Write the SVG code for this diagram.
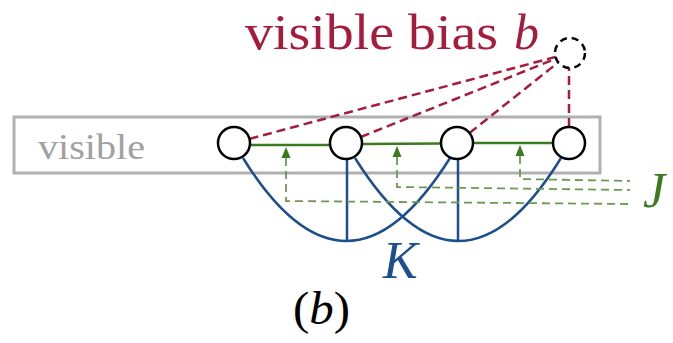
<svg xmlns="http://www.w3.org/2000/svg" width="673" height="343" viewBox="0 0 673 343">
<style>
  .node{fill:#fff;stroke:#000;stroke-width:2.5}
  .bias{fill:#fff;stroke:#000;stroke-width:2.5;stroke-dasharray:7 5}
  .red{stroke:#a51c3c;stroke-width:2.5;stroke-dasharray:9 5;fill:none}
  .blue{stroke:#1d4f8f;stroke-width:2.5;fill:none}
  .grn{stroke:#3b7a1f;stroke-width:2.5;fill:none}
  .gdash{stroke:#6b9b52;stroke-width:1.8;stroke-dasharray:8 5;fill:none}
  .arr{fill:#3b7a1f}
</style>
<rect x="14" y="117" width="586" height="56" fill="none" stroke="#b0b0b0" stroke-width="3"/>
<text font-family="Liberation Serif" x="38" y="159" font-size="36" fill="#a0a0a0" textLength="107" lengthAdjust="spacingAndGlyphs">visible</text>
<g id="labels">
  <text font-family="Liberation Serif" x="245" y="49" font-size="50" fill="#a51c3c" textLength="253" lengthAdjust="spacingAndGlyphs">visible bias</text>
  <text font-family="Liberation Serif" font-style="italic" x="514" y="49" font-size="50" fill="#a51c3c">b</text>
  <text font-family="Liberation Serif" font-style="italic" x="643" y="207" font-size="50" fill="#3b7a1f">J</text>
  <text font-family="Liberation Serif" font-style="italic" x="383" y="278" font-size="52" fill="#1d4f8f">K</text>
  <text font-family="Liberation Serif" x="293" y="324" font-size="46" fill="#000" textLength="57" lengthAdjust="spacingAndGlyphs">(<tspan font-style="italic">b</tspan>)</text>
</g>
<g id="connectors">
  <line class="red" x1="249.5" y1="138.9" x2="555.5" y2="56.9"/>
  <line class="red" x1="360.8" y1="137" x2="556" y2="58.6"/>
  <line class="red" x1="469.5" y1="133" x2="558.3" y2="62.3"/>
  <line class="red" x1="569" y1="127" x2="569" y2="68"/>
  <path class="blue" d="M243,158 Q346,324 450,158"/>
  <path class="blue" d="M355,158 Q459,324 561,158"/>
  <line class="blue" x1="347" y1="159" x2="347" y2="241"/>
  <line class="blue" x1="458" y1="159" x2="458" y2="241"/>
  <line class="grn" x1="250" y1="145" x2="330" y2="145"/>
  <line class="grn" x1="362" y1="144" x2="441" y2="143.5"/>
  <line class="grn" x1="473" y1="143" x2="553" y2="143"/>
  <polygon class="arr" points="286,147 281.5,158 290.5,158"/>
  <polygon class="arr" points="397,146 392.5,157 401.5,157"/>
  <polygon class="arr" points="520,145 515.5,156 524.5,156"/>
  <path class="gdash" d="M286,158 V201 L630,204"/>
  <path class="gdash" d="M397,157 V187 L630,190"/>
  <path class="gdash" d="M520,156 V179 L630,181"/>
</g>
<g id="bias"><circle class="bias" cx="570" cy="53" r="15"/></g>
<g id="v1"><circle class="node" cx="234" cy="143" r="16"/></g>
<g id="v2"><circle class="node" cx="346" cy="143" r="16"/></g>
<g id="v3"><circle class="node" cx="457" cy="143" r="16"/></g>
<g id="v4"><circle class="node" cx="569" cy="143" r="16"/></g>
</svg>
